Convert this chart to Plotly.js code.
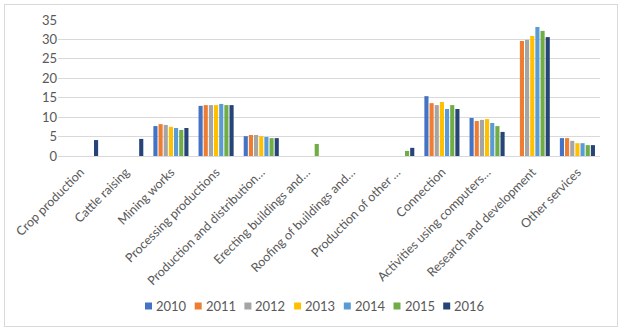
<!DOCTYPE html>
<html><head><meta charset="utf-8">
<script src="https://cdn.plot.ly/plotly-3.0.1.min.js"></script>
<style>
html,body{margin:0;padding:0;background:#fff;}
#wrap{position:relative;width:625px;height:334px;}
#chart{width:625px;height:334px;}
#frame{position:absolute;left:4px;top:4px;width:612px;height:321px;border:1px solid #d9d9d9;pointer-events:none;}
</style></head>
<body>
<div id="wrap"><div id="chart"></div><div id="frame"></div></div>
<script>
const categories = ["Crop production","Cattle raising","Mining works","Processing productions","Production and distribution…","Erecting buildings and…","Roofing of buildings and…","Production of other …","Connection","Activities using computers…","Research and development","Other services"];
const years = ["2010","2011","2012","2013","2014","2015","2016"];
const colors = ["#4472C4","#ED7D31","#A5A5A5","#FFC000","#5B9BD5","#70AD47","#264478"];
const v2010 = [null,null,7.7,12.9,5.1,null,null,null,15.4,9.8,null,4.6];
const v2011 = [null,null,8.2,13.1,5.4,null,null,null,13.6,9.0,29.6,4.6];
const v2012 = [null,null,8.0,13.1,5.4,null,null,null,13.1,9.3,29.9,3.9];
const v2013 = [null,null,7.5,13.1,5.1,null,null,null,13.9,9.5,30.9,3.3];
const v2014 = [null,null,7.2,13.4,4.9,null,null,null,12.1,8.5,33.2,3.3];
const v2015 = [null,null,6.7,13.1,4.6,3.1,null,1.3,13.1,7.7,32.2,2.8];
const v2016 = [4.1,4.4,7.2,13.1,4.6,null,null,2.1,12.1,6.2,30.6,2.8];
const series = [v2010,v2011,v2012,v2013,v2014,v2015,v2016];

const traces = series.map((vals,i)=>({
  type:'bar', name:years[i], x:categories, y:vals,
  marker:{color:colors[i]}, showlegend:false
}));

const W = 625, H = 334;
const M = {l:58, r:25, t:20, b:178};
const pw = W - M.l - M.r, ph = H - M.t - M.b;
const px2x = p => (p - M.l) / pw;
const px2y = p => (H - M.b - p) / ph;

// custom legend (Excel-style small squares close to text)
const legX0 = 145, legPitch = 49.7, legY = 306, sq = 7;
const shapes = [], annotations = [];
years.forEach((yr, i) => {
  const x0 = legX0 + i * legPitch;
  shapes.push({type:'rect', xref:'paper', yref:'paper',
    x0:px2x(x0), x1:px2x(x0 + sq), y0:px2y(legY + sq/2), y1:px2y(legY - sq/2),
    fillcolor:colors[i], line:{width:0}});
  annotations.push({xref:'paper', yref:'paper', x:px2x(x0 + sq + 2), y:px2y(legY),
    xanchor:'left', yanchor:'middle', showarrow:false, text:yr,
    font:{family:'Lato, "Open Sans", sans-serif', size:13, color:'#595959'}});
});

const font = {family:'Lato, "Open Sans", sans-serif', size:12, color:'#595959'};
const layout = {
  width:W, height:H,
  margin:M,
  paper_bgcolor:'#ffffff', plot_bgcolor:'#ffffff',
  font:font,
  barmode:'group', bargap:0.2, bargroupgap:0.2,
  showlegend:false,
  shapes:shapes, annotations:annotations,
  xaxis:{type:'category', tickangle:-45, showgrid:false, showline:true, linecolor:'#d9d9d9', linewidth:1,
    ticks:'', ticklabelstandoff:3, tickfont:{family:font.family, size:12.5, color:'#595959'}, automargin:false, fixedrange:true},
  yaxis:{range:[0,35], tickvals:[0,5,10,15,20,25,30,35], showgrid:true, gridcolor:'#d9d9d9', gridwidth:1,
    zeroline:true, zerolinecolor:'#d9d9d9', showline:false, ticks:'', ticklen:0,
    tickfont:{family:font.family, size:13, color:'#595959'}, automargin:false, fixedrange:true}
};
Plotly.newPlot('chart', traces, layout, {displayModeBar:false, staticPlot:true});
</script>
</body></html>
